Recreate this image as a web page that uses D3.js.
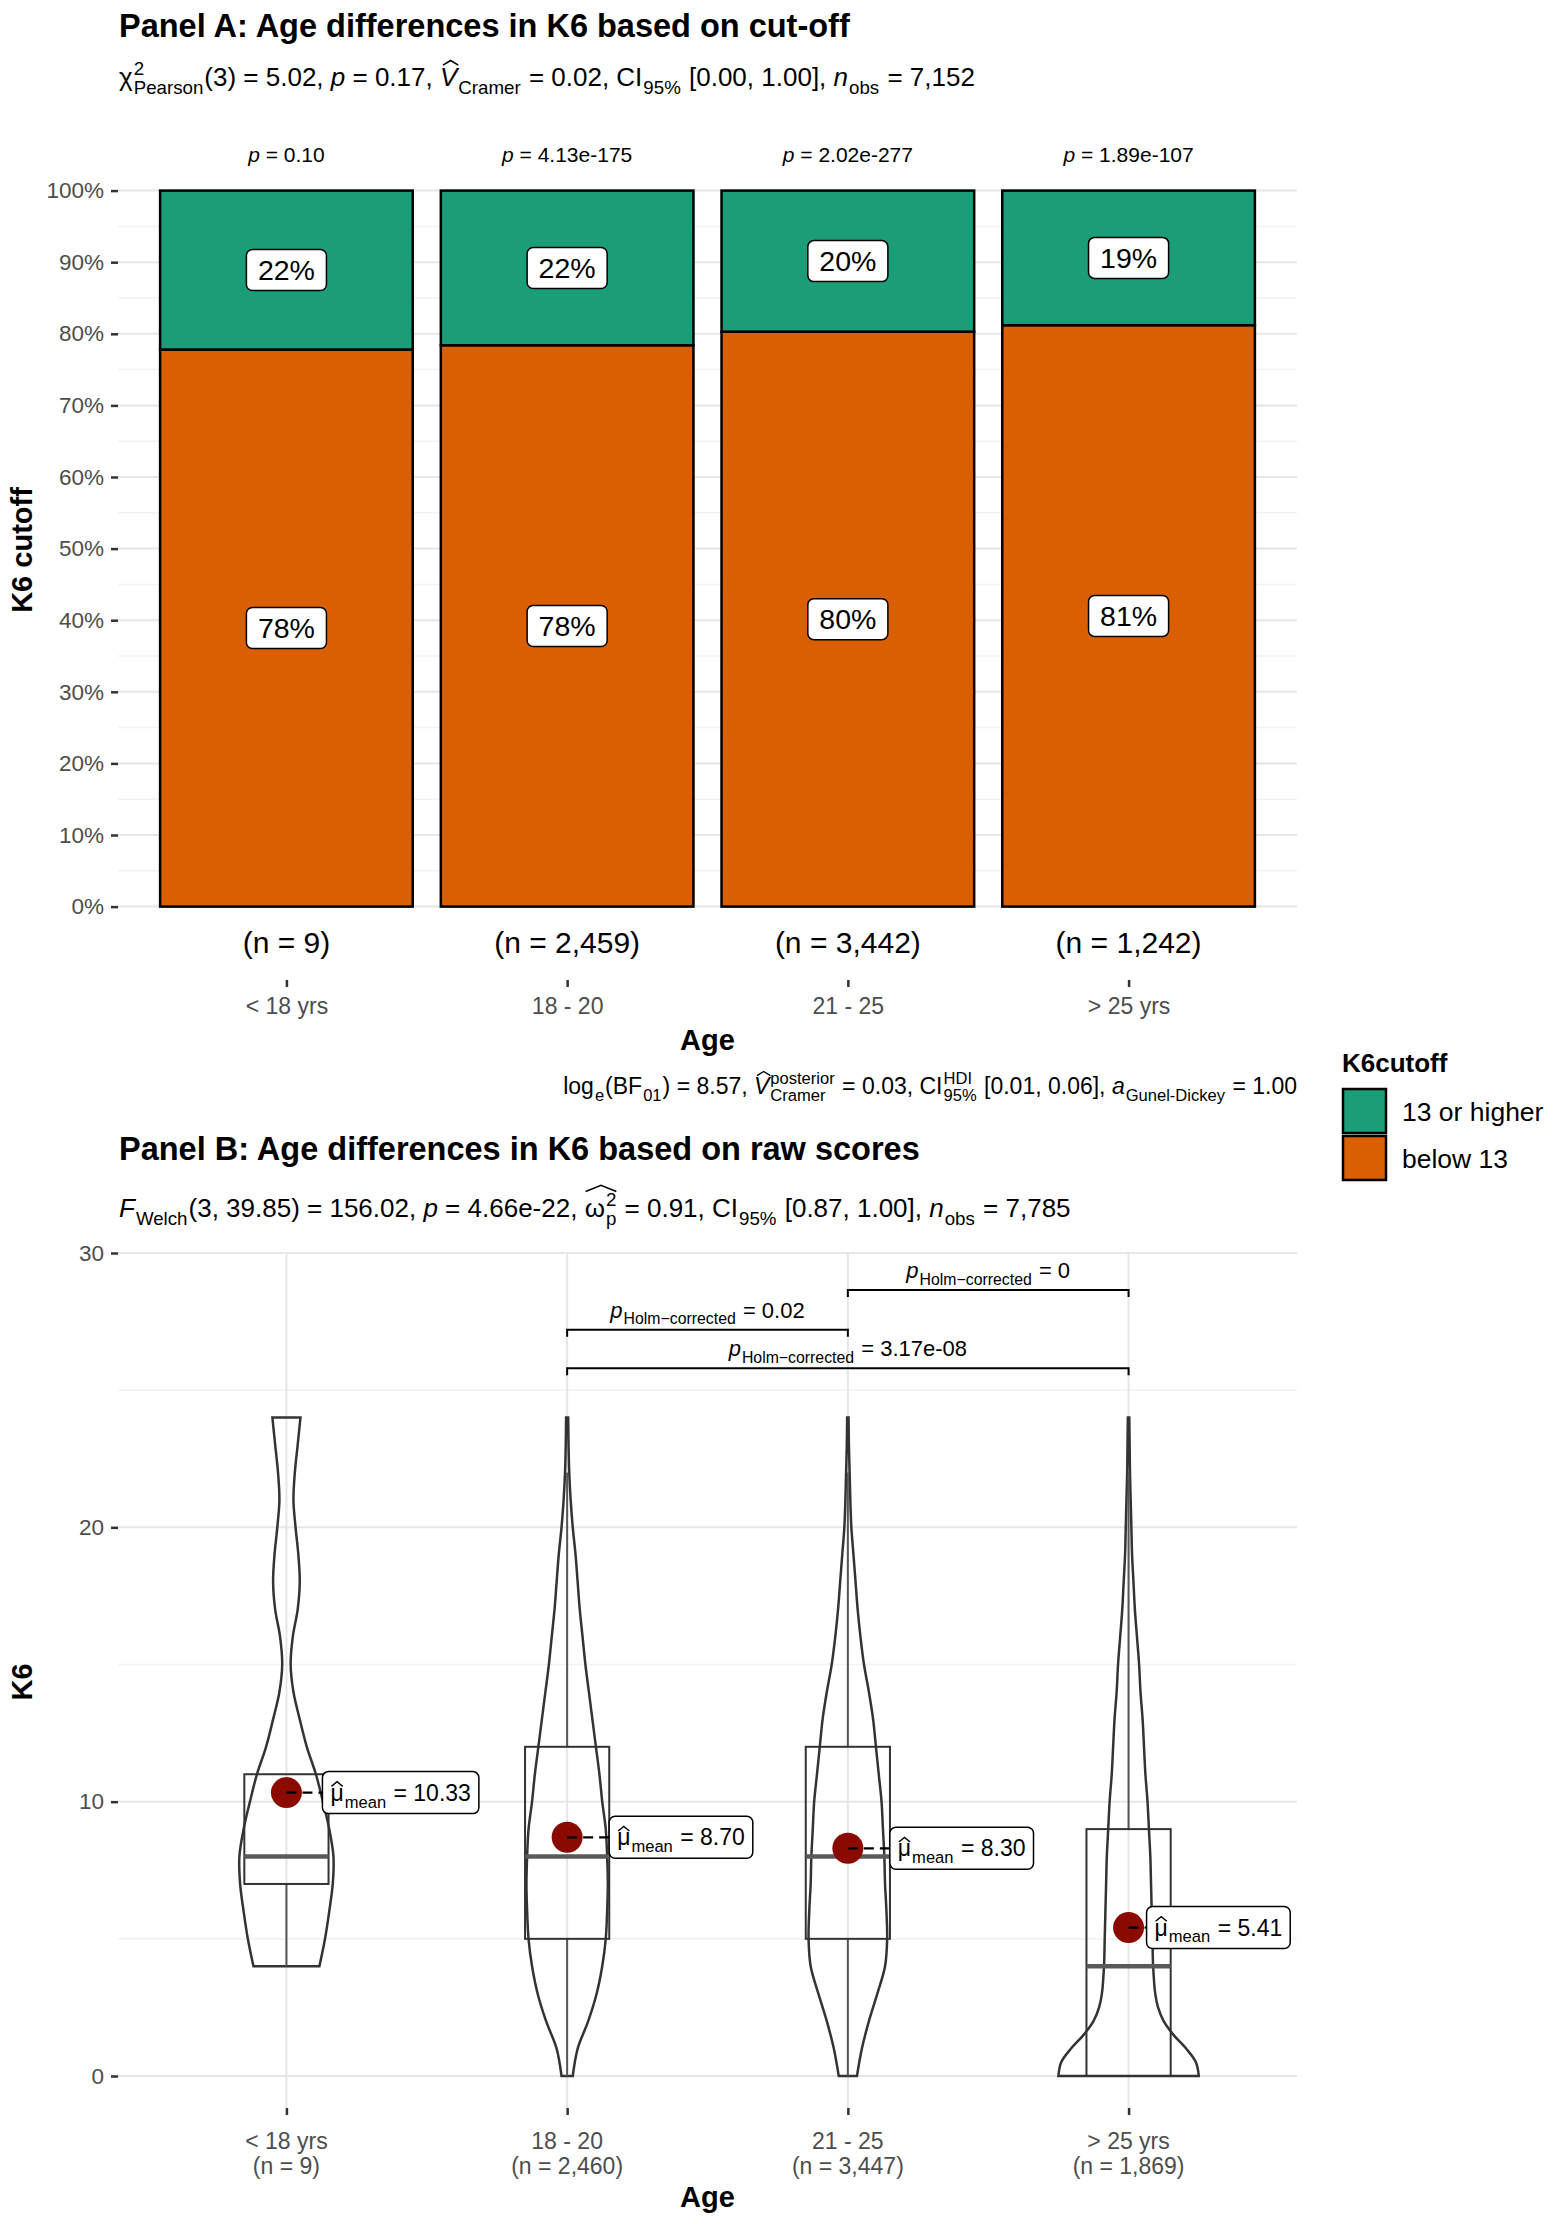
<!DOCTYPE html>
<html>
<head>
<meta charset="utf-8">
<script src="https://cdn.jsdelivr.net/npm/d3@7"></script>
<style>
  body { margin: 0; background: #fff; }
  text { font-family: "Liberation Sans", Arial, Helvetica, sans-serif; }
</style>
</head>
<body>
<div id="chart"></div>
<script>
// ---- data: panel A (cut-off) ----
var ageGroups = ["< 18 yrs", "18 - 20", "21 - 25", "> 25 yrs"];
var cutoffLevels = ["13 or higher", "below 13"];
var pctHigh = [22.2, 21.6, 19.7, 18.8];
var pctLow = [77.8, 78.4, 80.3, 81.2];
var nCutoff = ["9", "2,459", "3,442", "1,242"];
var pGroup = ["0.10", "4.13e-175", "2.02e-277", "1.89e-107"];
var pctTicks = [0, 10, 20, 30, 40, 50, 60, 70, 80, 90, 100];
var pctMinor = [5, 15, 25, 35, 45, 55, 65, 75, 85, 95];

// ---- data: panel B (raw scores) ----
var nRaw = ["9", "2,460", "3,447", "1,869"];
var k6Ticks = [0, 10, 20, 30];
var k6Minor = [5, 15, 25];
var boxQ1 = [7, 5, 5, 0];
var boxMedian = [8, 8, 8, 4];
var boxQ3 = [11, 12, 12, 9];
var whiskerLo = [4, 0, 0, 0];
var whiskerHi = [11, 22, 22, 22];
var meanK6 = [10.33, 8.70, 8.30, 5.41];

// violin outlines: [K6 score, relative half-width]
var densLt18 = [[4, 0.47], [5, 0.55], [6, 0.61], [7, 0.66], [8, 0.67], [9, 0.61], [10, 0.52], [11, 0.42],
  [12, 0.29], [13, 0.19], [14, 0.1], [15, 0.06], [16, 0.09], [17, 0.16], [18, 0.19], [19, 0.17],
  [20, 0.13], [21, 0.1], [22, 0.12], [23, 0.16], [24, 0.2]];
var dens18to20 = [[0, 0.08], [1, 0.15], [2, 0.3], [3, 0.42], [4, 0.5], [5, 0.55], [6, 0.57], [7, 0.58],
  [8, 0.57], [9, 0.55], [10, 0.5], [11, 0.46], [12, 0.41], [13, 0.36], [14, 0.31], [15, 0.26],
  [16, 0.22], [17, 0.18], [18, 0.15], [19, 0.12], [20, 0.08], [21, 0.05], [22, 0.03], [23, 0.02], [24, 0.015]];
var dens21to25 = [[0, 0.13], [1, 0.2], [2, 0.3], [3, 0.42], [4, 0.53], [5, 0.56], [6, 0.55], [7, 0.53],
  [8, 0.52], [9, 0.5], [10, 0.48], [11, 0.44], [12, 0.4], [13, 0.36], [14, 0.3], [15, 0.23],
  [16, 0.18], [17, 0.14], [18, 0.11], [19, 0.08], [20, 0.05], [21, 0.035], [22, 0.025], [23, 0.015], [24, 0.01]];
var densGt25 = [[0, 1.0], [0.5, 0.96], [1, 0.82], [1.5, 0.64], [2, 0.5], [2.5, 0.42], [3, 0.38], [4, 0.35],
  [5, 0.34], [6, 0.33], [7, 0.32], [8, 0.31], [9, 0.29], [10, 0.27], [11, 0.24], [12, 0.22], [13, 0.2],
  [14, 0.17], [15, 0.15], [16, 0.12], [17, 0.09], [18, 0.07], [19, 0.05], [20, 0.04], [21, 0.03],
  [22, 0.02], [23, 0.015], [24, 0.01]];

// pairwise comparisons (Holm-corrected)
var pairFrom = ["18 - 20", "21 - 25", "18 - 20"];
var pairTo = ["21 - 25", "> 25 yrs", "> 25 yrs"];
var pairP = ["0.02", "0", "3.17e-08"];
var pairK6 = [27.2, 28.65, 25.8];

// ---- layout ----
var W = 1559, H = 2224;
var panelLeft = 118, panelRight = 1297;
var meanLabelDx = [36, 42, 42, 18];

var svg = d3.select("#chart").append("svg")
  .attr("width", W)
  .attr("height", H)
  .style("background", "#fff");

var x = d3.scalePoint().domain(ageGroups).range([panelLeft, panelRight]).padding(0.6);
var step = x.step();

function nb(s) { return s.replace(/ /g, "\u00a0"); }

// small plotmath-like text: parts with italics, sub/superscripts and hats
function richText(parent, px, py, parts, size, anchor, fill) {
  fill = fill || "#000";
  var g = parent.append("g").attr("fill", fill);
  var cx = 0, starts = [], ends = [];
  parts.forEach(function (p) {
    starts.push(cx);
    if (p.t !== undefined) {
      var t = g.append("text").attr("x", cx).attr("y", 0)
        .style("font-size", size + "px")
        .style("font-style", p.it ? "italic" : "normal")
        .text(nb(p.t));
      cx += t.node().getComputedTextLength();
    } else {
      var w = 0, small = size * 0.72;
      if (p.sup) {
        var ts = g.append("text").attr("x", cx + 1).attr("y", -size * 0.42)
          .style("font-size", small + "px").text(nb(p.sup));
        w = Math.max(w, ts.node().getComputedTextLength());
      }
      if (p.sub) {
        var tb = g.append("text").attr("x", cx + 1).attr("y", size * 0.3)
          .style("font-size", small + "px").text(nb(p.sub));
        w = Math.max(w, tb.node().getComputedTextLength());
      }
      cx += w + 2;
    }
    ends.push(cx);
  });
  parts.forEach(function (p, i) {
    if (!p.hat) return;
    var x0 = starts[i] + (p.hatShift || 0), x1 = ends[i + (p.hatSpan || 0)] + (p.hatShift || 0);
    var lo = -size * (p.hatLo || 0.8), hi = -size * (p.hatHi || 0.98);
    g.append("path")
      .attr("d", "M" + (x0 + 1) + "," + lo + "L" + ((x0 + x1) / 2) + "," + hi + "L" + (x1 - 1) + "," + lo)
      .attr("fill", "none")
      .attr("stroke", fill)
      .attr("stroke-width", Math.max(1.2, size * 0.06));
  });
  var dx = anchor === "middle" ? -cx / 2 : (anchor === "end" ? -cx : 0);
  g.attr("transform", "translate(" + (px + dx) + "," + py + ")");
  return cx;
}

function styleAxis(g, size) {
  g.select(".domain").remove();
  g.selectAll(".tick line").attr("stroke", "#333").attr("stroke-width", 2.5);
  g.selectAll(".tick text")
    .attr("fill", "#4D4D4D")
    .style("font-size", size + "px")
    .style("font-family", "'Liberation Sans', Arial, sans-serif");
}

// =================== Panel A ===================
var aTop = 153, aBottom = 980;
var yA = d3.scaleLinear().domain([-10.25, 105.25]).range([aBottom, aTop]);
var gA = svg.append("g");

svg.append("text")
  .attr("x", 119).attr("y", 37)
  .style("font-size", "32.5px").style("font-weight", "bold")
  .text("Panel A: Age differences in K6 based on cut-off");

richText(svg, 119, 86, [
  { t: "\u03c7" }, { sup: "2", sub: "Pearson" }, { t: "(3) = 5.02, " }, { t: "p", it: 1 },
  { t: " = 0.17, " }, { t: "V", it: 1, hat: 1, hatShift: 2 }, { sub: "Cramer" }, { t: " = 0.02, CI" },
  { sub: "95%" }, { t: " [0.00, 1.00], " }, { t: "n", it: 1 }, { sub: "obs" }, { t: " = 7,152" }
], 26, "start");

// grid
gA.selectAll(".minorA").data(pctMinor).enter().append("line")
  .attr("x1", panelLeft).attr("x2", panelRight)
  .attr("y1", function (d) { return yA(d); }).attr("y2", function (d) { return yA(d); })
  .attr("stroke", "#F2F2F2").attr("stroke-width", 1.5);
gA.selectAll(".majorA").data(pctTicks).enter().append("line")
  .attr("x1", panelLeft).attr("x2", panelRight)
  .attr("y1", function (d) { return yA(d); }).attr("y2", function (d) { return yA(d); })
  .attr("stroke", "#E6E6E6").attr("stroke-width", 2);

// axes
var axAy = gA.append("g").attr("transform", "translate(" + panelLeft + ",0)")
  .call(d3.axisLeft(yA).tickValues(pctTicks).tickFormat(function (d) { return d + "%"; }).tickSize(7).tickPadding(7));
styleAxis(axAy, 22.5);
var axAx = gA.append("g").attr("transform", "translate(0," + aBottom + ")")
  .call(d3.axisBottom(x).tickSize(7).tickPadding(11));
styleAxis(axAx, 23);

// stacked bars
var rowsA = ageGroups.map(function (g, i) { return { age: g, low: pctLow[i], high: pctHigh[i] }; });
var stackA = d3.stack().keys(["low", "high"])(rowsA);
var colorA = d3.scaleOrdinal().domain(["high", "low"]).range(["#1B9E77", "#D95F02"]);
var bw = step * 0.9;

stackA.forEach(function (layer) {
  gA.append("g").selectAll("rect").data(layer).enter().append("rect")
    .attr("x", function (d) { return x(d.data.age) - bw / 2; })
    .attr("y", function (d) { return yA(d[1]); })
    .attr("width", bw)
    .attr("height", function (d) { return yA(d[0]) - yA(d[1]); })
    .attr("fill", colorA(layer.key))
    .attr("stroke", "#000")
    .attr("stroke-width", 2.5);
});

// percentage labels
stackA.forEach(function (layer) {
  layer.forEach(function (d) {
    var cx = x(d.data.age), cy = yA((d[0] + d[1]) / 2);
    var lg = gA.append("g");
    var t = lg.append("text")
      .attr("x", cx).attr("y", cy + 10)
      .attr("text-anchor", "middle")
      .style("font-size", "28.5px")
      .text(Math.round(d[1] - d[0]) + "%");
    var tw = t.node().getComputedTextLength();
    lg.insert("rect", "text")
      .attr("x", cx - tw / 2 - 11.5).attr("y", cy - 20.5)
      .attr("width", tw + 23).attr("height", 41)
      .attr("rx", 6)
      .attr("fill", "#fff").attr("stroke", "#000").attr("stroke-width", 1.5);
  });
});

// p-values above, n below
ageGroups.forEach(function (g, i) {
  richText(gA, x(g), yA(105) + 7, [{ t: "p", it: 1 }, { t: " = " + pGroup[i] }], 21, "middle");
  gA.append("text")
    .attr("x", x(g)).attr("y", yA(-5) + 11)
    .attr("text-anchor", "middle")
    .style("font-size", "30px")
    .text("(n = " + nCutoff[i] + ")");
});

gA.append("text")
  .attr("transform", "translate(32," + 550 + ") rotate(-90)")
  .attr("text-anchor", "middle")
  .style("font-size", "29px").style("font-weight", "bold")
  .text("K6 cutoff");
gA.append("text")
  .attr("x", (panelLeft + panelRight) / 2).attr("y", 1050)
  .attr("text-anchor", "middle")
  .style("font-size", "29px").style("font-weight", "bold")
  .text("Age");

richText(svg, panelRight, 1094, [
  { t: "log" }, { sub: "e" }, { t: "(BF" }, { sub: "01" }, { t: ") = 8.57, " },
  { t: "V", it: 1, hat: 1, hatShift: 2 }, { sup: "posterior", sub: "Cramer" }, { t: " = 0.03, CI" },
  { sup: "HDI", sub: "95%" }, { t: " [0.01, 0.06], " }, { t: "a", it: 1 }, { sub: "Gunel-Dickey" }, { t: " = 1.00" }
], 23, "end");

// legend
var lg = svg.append("g").attr("transform", "translate(1342,0)");
lg.append("text").attr("x", 0).attr("y", 1072)
  .style("font-size", "26px").style("font-weight", "bold").text("K6cutoff");
cutoffLevels.forEach(function (lev, i) {
  var key = i === 0 ? "high" : "low";
  lg.append("rect")
    .attr("x", 1).attr("y", 1089 + i * 47)
    .attr("width", 43).attr("height", 44)
    .attr("fill", colorA(key)).attr("stroke", "#000").attr("stroke-width", 2.5);
  lg.append("text").attr("x", 60).attr("y", 1121 + i * 47)
    .style("font-size", "26.5px").text(lev);
});

// =================== Panel B ===================
var bTop = 1253, bBottom = 2108;
var yB = d3.scaleLinear().domain([0, 30]).range([2076, bTop]);
var gB = svg.append("g");

svg.append("text")
  .attr("x", 119).attr("y", 1160)
  .style("font-size", "32.5px").style("font-weight", "bold")
  .text("Panel B: Age differences in K6 based on raw scores");

richText(svg, 119, 1217, [
  { t: "F", it: 1 }, { sub: "Welch" }, { t: "(3, 39.85) = 156.02, " }, { t: "p", it: 1 },
  { t: " = 4.66e-22, " }, { t: "\u03c9", hat: 1, hatSpan: 1, hatLo: 0.98, hatHi: 1.22 }, { sup: "2", sub: "p" },
  { t: " = 0.91, CI" }, { sub: "95%" }, { t: " [0.87, 1.00], " }, { t: "n", it: 1 }, { sub: "obs" }, { t: " = 7,785" }
], 26, "start");

// grid
gB.selectAll(".minorB").data(k6Minor).enter().append("line")
  .attr("x1", panelLeft).attr("x2", panelRight)
  .attr("y1", function (d) { return yB(d); }).attr("y2", function (d) { return yB(d); })
  .attr("stroke", "#F2F2F2").attr("stroke-width", 1.5);
gB.selectAll(".majorB").data(k6Ticks).enter().append("line")
  .attr("x1", panelLeft).attr("x2", panelRight)
  .attr("y1", function (d) { return yB(d); }).attr("y2", function (d) { return yB(d); })
  .attr("stroke", "#E6E6E6").attr("stroke-width", 2);
gB.selectAll(".vgrid").data(ageGroups).enter().append("line")
  .attr("x1", function (d) { return x(d); }).attr("x2", function (d) { return x(d); })
  .attr("y1", bTop).attr("y2", bBottom)
  .attr("stroke", "#E6E6E6").attr("stroke-width", 2);

var axBy = gB.append("g").attr("transform", "translate(" + panelLeft + ",0)")
  .call(d3.axisLeft(yB).tickValues(k6Ticks).tickSize(7).tickPadding(7));
styleAxis(axBy, 22.5);
var axBx = gB.append("g").attr("transform", "translate(0," + bBottom + ")")
  .call(d3.axisBottom(x).tickSize(7).tickFormat(function () { return ""; }));
styleAxis(axBx, 23);
ageGroups.forEach(function (g, i) {
  var t = gB.append("text").attr("text-anchor", "middle").attr("fill", "#4D4D4D").style("font-size", "23px");
  t.append("tspan").attr("x", x(g)).attr("y", 2149).text(g);
  t.append("tspan").attr("x", x(g)).attr("y", 2174).text("(n = " + nRaw[i] + ")");
});

// violins
var violins = [densLt18, dens18to20, dens21to25, densGt25];
var wScale = d3.scaleLinear().domain([0, 1]).range([0, step * 0.25]);
violins.forEach(function (dens, i) {
  var cx = x(ageGroups[i]);
  var area = d3.area()
    .curve(d3.curveCatmullRom)
    .y(function (d) { return yB(d[0]); })
    .x0(function (d) { return cx - wScale(d[1]); })
    .x1(function (d) { return cx + wScale(d[1]); });
  gB.append("path")
    .attr("d", area(dens))
    .attr("fill", "none")
    .attr("stroke", "#333")
    .attr("stroke-width", 2.5);
});

// boxplots
var boxW = step * 0.3;
ageGroups.forEach(function (g, i) {
  var cx = x(g);
  if (whiskerHi[i] > boxQ3[i]) {
    gB.append("line").attr("x1", cx).attr("x2", cx)
      .attr("y1", yB(boxQ3[i])).attr("y2", yB(whiskerHi[i]))
      .attr("stroke", "#555").attr("stroke-width", 2);
  }
  if (whiskerLo[i] < boxQ1[i]) {
    gB.append("line").attr("x1", cx).attr("x2", cx)
      .attr("y1", yB(boxQ1[i])).attr("y2", yB(whiskerLo[i]))
      .attr("stroke", "#555").attr("stroke-width", 2);
  }
  gB.append("rect")
    .attr("x", cx - boxW / 2).attr("y", yB(boxQ3[i]))
    .attr("width", boxW).attr("height", yB(boxQ1[i]) - yB(boxQ3[i]))
    .attr("fill", "none").attr("stroke", "#333").attr("stroke-width", 2);
  gB.append("line")
    .attr("x1", cx - boxW / 2).attr("x2", cx + boxW / 2)
    .attr("y1", yB(boxMedian[i])).attr("y2", yB(boxMedian[i]))
    .attr("stroke", "#5a5a5a").attr("stroke-width", 4.5);
});

// means with labels
ageGroups.forEach(function (g, i) {
  var cx = x(g), cy = yB(meanK6[i]);
  gB.append("circle").attr("cx", cx).attr("cy", cy).attr("r", 15.5).attr("fill", "#8B0A00");
  var lx = cx + meanLabelDx[i];
  gB.append("line")
    .attr("x1", cx).attr("x2", lx).attr("y1", cy).attr("y2", cy)
    .attr("stroke", "#000").attr("stroke-width", 2.2).attr("stroke-dasharray", "10,6");
  var lab = gB.append("g");
  var box = lab.append("rect");
  var tw = richText(lab, lx + 8, cy + 8, [
    { t: "\u03bc", hat: 1, hatLo: 0.62, hatHi: 0.82 }, { sub: "mean" }, { t: " = " + meanK6[i].toFixed(2) }
  ], 23, "start");
  box.attr("x", lx).attr("y", cy - 21).attr("width", tw + 16).attr("height", 42)
    .attr("rx", 6).attr("fill", "#fff").attr("stroke", "#000").attr("stroke-width", 1.5);
});

// significance brackets
pairP.forEach(function (p, i) {
  var x1 = x(pairFrom[i]), x2 = x(pairTo[i]), by = yB(pairK6[i]);
  gB.append("path")
    .attr("d", "M" + x1 + "," + (by + 7) + "V" + by + "H" + x2 + "V" + (by + 7))
    .attr("fill", "none").attr("stroke", "#000").attr("stroke-width", 2);
  richText(gB, (x1 + x2) / 2, by - 12, [
    { t: "p", it: 1 }, { sub: "Holm\u2212corrected" }, { t: " = " + p }
  ], 22, "middle");
});

gB.append("text")
  .attr("transform", "translate(32," + 1682 + ") rotate(-90)")
  .attr("text-anchor", "middle")
  .style("font-size", "29px").style("font-weight", "bold")
  .text("K6");
gB.append("text")
  .attr("x", (panelLeft + panelRight) / 2).attr("y", 2207)
  .attr("text-anchor", "middle")
  .style("font-size", "29px").style("font-weight", "bold")
  .text("Age");
</script>
</body>
</html>
